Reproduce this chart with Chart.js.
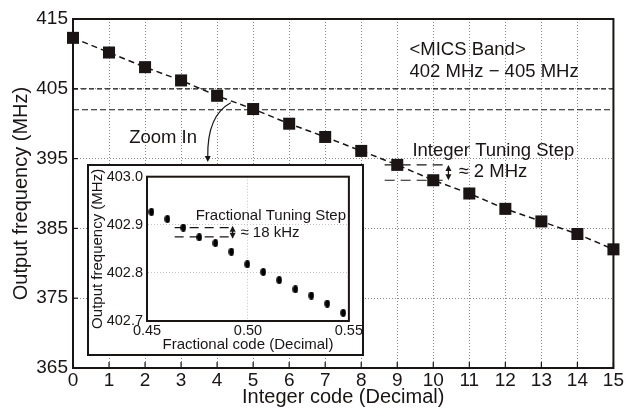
<!DOCTYPE html>
<html>
<head>
<meta charset="utf-8">
<script src="https://cdn.jsdelivr.net/npm/chart.js@4"></script>
<style>
html, body { margin: 0; padding: 0; background: #fff; }
#wrap { position: relative; width: 625px; height: 409px; overflow: hidden; }
#main { position: absolute; left: 0; top: 0; }
#inset { position: absolute; left: 87px; top: 164px; }
</style>
</head>
<body>
<div id="wrap">
  <canvas id="main" width="625" height="409" style="width:625px;height:409px"></canvas>
  <canvas id="inset" width="277" height="192" style="width:277px;height:192px"></canvas>
</div>
<script>
// main plot: integer code sweep
const intCodes = [0, 1, 2, 3, 4, 5, 6, 7, 8, 9, 10, 11, 12, 13, 14, 15];
const intFreqs = [412.3, 410.2, 408.1, 406.2, 404.0, 402.1, 400.0, 398.1, 396.1, 394.1, 391.9, 390.0, 387.8, 386.0, 384.2, 382.0];
const micsBand = [402, 405];
const intStepSpan = [8.65, 10.3];
const intStepLevels = [394.1, 391.9];

// inset: fractional code sweep
const fracCodes = [0.4522, 0.4601, 0.4680, 0.4759, 0.4839, 0.4918, 0.4997, 0.5076, 0.5155, 0.5235, 0.5314, 0.5393, 0.5472];
const fracFreqs = [402.927, 402.912, 402.894, 402.874, 402.862, 402.844, 402.818, 402.802, 402.785, 402.766, 402.753, 402.736, 402.717];
const fracStepSpan = [0.4637, 0.4924];
const fracStepLevels = [402.894, 402.875];

const FONT = '"Liberation Sans", Arial, sans-serif';
const INK = '#1a1414';

function hline(level, span, dash, width) {
  return {
    data: span.map(x => ({x: x, y: level})),
    showLine: true, borderColor: INK, borderWidth: width, borderDash: dash,
    pointRadius: 0, fill: false
  };
}

function arrowHead(ctx, x, y, dir) {
  ctx.beginPath();
  ctx.moveTo(x, y);
  ctx.lineTo(x - 3, y - dir * 6);
  ctx.lineTo(x + 3, y - dir * 6);
  ctx.closePath();
  ctx.fill();
}

function dblArrow(ctx, x, y1, y2) {
  ctx.beginPath();
  ctx.moveTo(x, y1 + 4);
  ctx.lineTo(x, y2 - 4);
  ctx.stroke();
  arrowHead(ctx, x, y1, -1);
  arrowHead(ctx, x, y2, 1);
}

function text(ctx, s, x, y, size, align) {
  ctx.font = size + 'px ' + FONT;
  ctx.textAlign = align || 'left';
  ctx.textBaseline = 'middle';
  ctx.fillText(s, x, y);
}

const mainDecor = {
  id: 'mainDecor',
  afterDraw(chart) {
    const {ctx, chartArea: a, scales: {x, y}} = chart;
    ctx.save();
    ctx.fillStyle = INK;
    ctx.strokeStyle = INK;
    ctx.setLineDash([]);
    // inward tick marks
    ctx.lineWidth = 1.2;
    intCodes.forEach(v => {
      const px = x.getPixelForValue(v);
      ctx.beginPath(); ctx.moveTo(px, a.bottom); ctx.lineTo(px, a.bottom - 6); ctx.stroke();
    });
    y.ticks.forEach(t => {
      const py = y.getPixelForValue(t.value);
      ctx.beginPath(); ctx.moveTo(a.left, py); ctx.lineTo(a.left + 5, py); ctx.stroke();
    });
    // labels
    text(ctx, '<MICS Band>', x.getPixelForValue(9.34), y.getPixelForValue(410.56), 18.5);
    text(ctx, '402 MHz \u2212 405 MHz', x.getPixelForValue(9.34), y.getPixelForValue(407.4), 18.5);
    text(ctx, 'Integer Tuning Step', x.getPixelForValue(9.42), y.getPixelForValue(396.1), 18.5);
    text(ctx, '\u2248 2 MHz', x.getPixelForValue(10.70), y.getPixelForValue(393.1), 18.5);
    text(ctx, 'Zoom In', x.getPixelForValue(2.5), y.getPixelForValue(397.95), 18.5, 'center');
    ctx.lineWidth = 1.2;
    dblArrow(ctx, x.getPixelForValue(10.42), y.getPixelForValue(intStepLevels[0]), y.getPixelForValue(intStepLevels[1]));
    // curved zoom arrow
    const sx = x.getPixelForValue(4.38), sy = y.getPixelForValue(403.0);
    const cx = x.getPixelForValue(3.72), cy = y.getPixelForValue(401.2);
    const ex = x.getPixelForValue(3.74), ey = y.getPixelForValue(394.5);
    ctx.beginPath();
    ctx.moveTo(sx, sy);
    ctx.quadraticCurveTo(cx, cy, ex, ey - 5);
    ctx.stroke();
    arrowHead(ctx, ex, ey, 1);
    ctx.restore();
  },
  beforeDatasetsDraw(chart) {
    // frame under the markers so edge squares sit on top of it
    const {ctx, chartArea: a} = chart;
    ctx.save();
    ctx.strokeStyle = INK;
    ctx.setLineDash([]);
    ctx.lineWidth = 2;
    ctx.strokeRect(a.left, a.top, a.right - a.left, a.bottom - a.top);
    ctx.restore();
  }
};

new Chart(document.getElementById('main'), {
  type: 'scatter',
  data: {
    datasets: [
      {
        data: intCodes.map((c, i) => ({x: c, y: intFreqs[i]})),
        showLine: true, borderColor: INK, borderWidth: 1.5, borderDash: [6, 4],
        pointStyle: 'rect', pointRadius: 8.5, pointBackgroundColor: INK,
        pointBorderColor: INK, pointBorderWidth: 0, clip: false
      },
      hline(micsBand[0], [0, 15], [6, 3], 1.2),
      hline(micsBand[1], [0, 15], [5, 3], 1.2),
      hline(intStepLevels[0], intStepSpan, [10, 6], 1.2),
      hline(intStepLevels[1], intStepSpan, [10, 6], 1.2)
    ]
  },
  options: {
    responsive: false,
    animation: false,
    layout: {padding: {top: 19, right: 11, left: 0, bottom: 0}},
    plugins: {legend: {display: false}, tooltip: {enabled: false}},
    scales: {
      x: {
        type: 'linear', min: 0, max: 15,
        afterFit: s => { s.height = 41; },
        ticks: {stepSize: 1, color: INK, padding: 1, font: {family: FONT, size: 19}},
        grid: {color: '#8a8a8a', lineWidth: 1, drawTicks: false},
        border: {display: true, color: INK, width: 2, dash: [1, 2]},
        title: {display: true, text: 'Integer code (Decimal)', color: INK,
                font: {family: FONT, size: 20}, padding: {top: 0, bottom: 0}}
      },
      y: {
        min: 365, max: 415,
        afterFit: s => { s.width = 73; },
        ticks: {stepSize: 10, color: INK, padding: 5, font: {family: FONT, size: 19}},
        grid: {color: '#8a8a8a', lineWidth: 1, drawTicks: false},
        border: {display: true, color: INK, width: 2, dash: [1, 2]},
        title: {display: true, text: 'Output frequency (MHz)', color: INK,
                font: {family: FONT, size: 20}, padding: {top: 9, bottom: 0}}
      }
    }
  },
  plugins: [mainDecor]
});

// elliptical marker for the inset
const dot = document.createElement('canvas');
dot.width = 6; dot.height = 8;
(function () {
  const c = dot.getContext('2d');
  c.fillStyle = '#000';
  c.beginPath();
  c.ellipse(3, 4, 2.8, 4, 0, 0, Math.PI * 2);
  c.fill();
})();

const insetDecor = {
  id: 'insetDecor',
  beforeDraw(chart) {
    const {ctx, width, height} = chart;
    ctx.save();
    ctx.fillStyle = '#fff';
    ctx.fillRect(0, 0, width, height);
    ctx.restore();
  },
  afterDraw(chart) {
    const {ctx, width, height, chartArea: a, scales: {x, y}} = chart;
    ctx.save();
    ctx.strokeStyle = INK;
    ctx.fillStyle = INK;
    ctx.setLineDash([]);
    ctx.lineWidth = 2;
    ctx.strokeRect(1, 1, width - 2, height - 2);
    ctx.strokeRect(a.left, a.top, a.right - a.left, a.bottom - a.top);
    text(ctx, 'Fractional Tuning Step', x.getPixelForValue(0.4741), y.getPixelForValue(402.919), 15);
    text(ctx, '\u2248 18 kHz', x.getPixelForValue(0.4963), y.getPixelForValue(402.883), 15);
    ctx.lineWidth = 1.2;
    dblArrow(ctx, x.getPixelForValue(0.4924), y.getPixelForValue(fracStepLevels[0]) - 2, y.getPixelForValue(fracStepLevels[1]) + 2);
    ctx.restore();
  }
};

new Chart(document.getElementById('inset'), {
  type: 'scatter',
  data: {
    datasets: [
      {
        data: fracCodes.map((c, i) => ({x: c, y: fracFreqs[i]})),
        pointStyle: dot, pointRadius: 4
      },
      hline(fracStepLevels[0], fracStepSpan, [9, 6], 1.2),
      hline(fracStepLevels[1], fracStepSpan, [9, 6], 1.2)
    ]
  },
  options: {
    responsive: false,
    animation: false,
    layout: {padding: {top: 9, right: 15, left: 0, bottom: 0}},
    plugins: {legend: {display: false}, tooltip: {enabled: false}},
    scales: {
      x: {
        type: 'linear', min: 0.45, max: 0.55,
        afterFit: s => { s.height = 35; },
        ticks: {stepSize: 0.05, color: INK, padding: 1, font: {family: FONT, size: 14.5},
                callback: v => v.toFixed(2)},
        grid: {color: '#c4c4c4', lineWidth: 1, drawTicks: false},
        border: {display: true, color: INK, width: 2, dash: [1, 2]},
        title: {display: true, text: 'Fractional code (Decimal)', color: INK,
                font: {family: FONT, size: 15}, padding: {top: 0, bottom: 2}}
      },
      y: {
        min: 402.7, max: 403.0,
        afterFit: s => { s.width = 60; },
        ticks: {stepSize: 0.1, color: INK, padding: 4, font: {family: FONT, size: 14.5},
                callback: v => v.toFixed(1)},
        grid: {color: '#c4c4c4', lineWidth: 1, drawTicks: false},
        border: {display: true, color: INK, width: 2, dash: [1, 2]},
        title: {display: true, text: 'Output frequency (MHz)', color: INK,
                font: {family: FONT, size: 15}, padding: {top: 2, bottom: 0}}
      }
    }
  },
  plugins: [insetDecor]
});
</script>
</body>
</html>
